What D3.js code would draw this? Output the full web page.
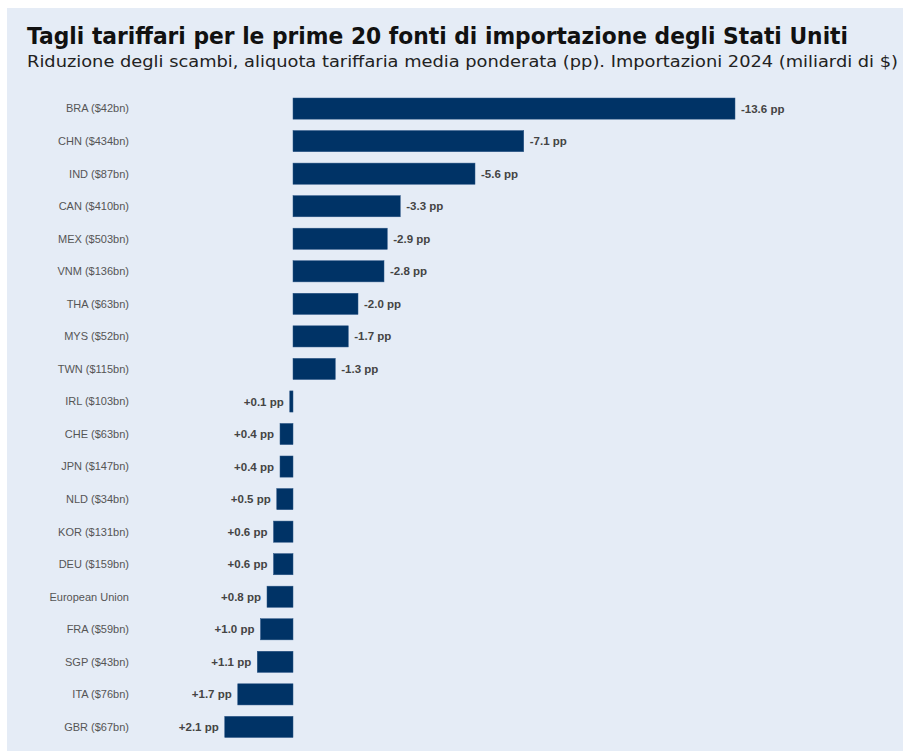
<!DOCTYPE html>
<html>
  <head>
    <meta charset="UTF-8">
    <title>Tagli tariffari</title>
    <script src="https://cdnjs.cloudflare.com/ajax/libs/d3/7.8.5/d3.min.js"></script>
    <style>
      body { margin: 0; background: #fff; }
      .lbl { font: 11px "Liberation Sans", Arial, sans-serif; fill: #555; }
      .val { font: bold 11.5px "Liberation Sans", Arial, sans-serif; fill: #444; }
    </style>
  </head>
  <body>
    <div id="chart"></div>
    <script>
      const countries = ["BRA ($42bn)", "CHN ($434bn)", "IND ($87bn)", "CAN ($410bn)", "MEX ($503bn)",
        "VNM ($136bn)", "THA ($63bn)", "MYS ($52bn)", "TWN ($115bn)", "IRL ($103bn)", "CHE ($63bn)",
        "JPN ($147bn)", "NLD ($34bn)", "KOR ($131bn)", "DEU ($159bn)", "European Union", "FRA ($59bn)",
        "SGP ($43bn)", "ITA ($76bn)", "GBR ($67bn)"];
      const changes = [-13.6, -7.1, -5.6, -3.3, -2.9, -2.8, -2.0, -1.7, -1.3, 0.1, 0.4, 0.4, 0.5, 0.6, 0.6,
        0.8, 1.0, 1.1, 1.7, 2.1];
      const title = "Tagli tariffari per le prime 20 fonti di importazione degli Stati Uniti";
      const subtitle = "Riduzione degli scambi, aliquota tariffaria media ponderata (pp). Importazioni 2024 (miliardi di $)";

      const W = 903, H = 751;
      const svg = d3.select("#chart").append("svg").attr("width", W).attr("height", H);

      svg.append("rect").attr("x", 7).attr("y", 8).attr("width", W - 7).attr("height", H - 8)
        .attr("fill", "#e5ecf6");

      svg.append("text").attr("x", 27).attr("y", 44).attr("textLength", 821)
        .attr("lengthAdjust", "spacingAndGlyphs")
        .style("font", "bold 23px 'DejaVu Sans', sans-serif").style("fill", "#111")
        .text(title);
      svg.append("text").attr("x", 27).attr("y", 67).attr("textLength", 871)
        .attr("lengthAdjust", "spacingAndGlyphs")
        .style("font", "15px 'DejaVu Sans', sans-serif").style("fill", "#222")
        .text(subtitle);

      // negative changes go to the right, positive to the left
      const x = d3.scaleLinear().domain([0, -13.6]).range([293, 735]);
      const y = d3.scaleBand().domain(countries).range([91.5, 744]).paddingInner(0.35).paddingOuter(0.2);

      const data = countries.map((c, i) => ({c: c, v: changes[i]}));
      const g = svg.append("g");

      g.selectAll("rect.bar").data(data).enter().append("rect")
        .attr("class", "bar")
        .attr("x", d => Math.min(x(0), x(d.v)))
        .attr("width", d => Math.abs(x(d.v) - x(0)))
        .attr("y", d => y(d.c))
        .attr("height", y.bandwidth())
        .attr("fill", "#003366")
        .attr("stroke", "#2a5585").attr("stroke-width", 0.5);

      g.selectAll("text.lbl").data(data).enter().append("text")
        .attr("class", "lbl")
        .attr("x", 129)
        .attr("y", d => y(d.c) + y.bandwidth() / 2)
        .attr("dy", "0.35em").attr("text-anchor", "end")
        .text(d => d.c);

      const fmt = v => (v > 0 ? "+" : "") + v.toFixed(1) + " pp";
      g.selectAll("text.val").data(data).enter().append("text")
        .attr("class", "val")
        .attr("x", d => d.v < 0 ? x(d.v) + 6 : x(d.v) - 6)
        .attr("y", d => y(d.c) + y.bandwidth() / 2)
        .attr("dy", "0.35em")
        .attr("text-anchor", d => d.v < 0 ? "start" : "end")
        .text(d => fmt(d.v));
    </script>
  </body>
</html>
